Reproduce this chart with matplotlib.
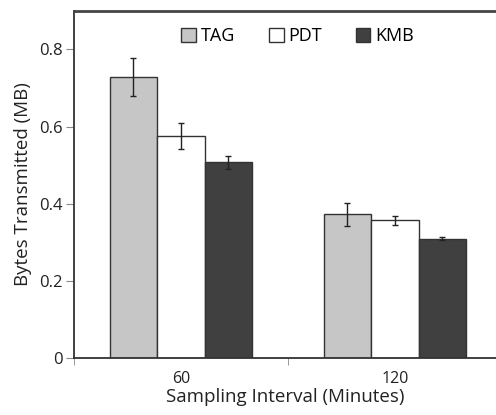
import numpy as np
import matplotlib.pyplot as plt

intervals = ["60", "120"]
series = ["TAG", "PDT", "KMB"]
tag = [0.728, 0.373]
pdt = [0.576, 0.357]
kmb = [0.507, 0.310]
tag_err = [0.050, 0.030]
pdt_err = [0.034, 0.012]
kmb_err = [0.018, 0.005]

colors = ["#c6c6c6", "#ffffff", "#404040"]
plt.rcParams['font.family'] = ['Open Sans', 'DejaVu Sans']

fig = plt.figure(figsize=(4.96, 4.15), dpi=100)
# the original frame runs past the right edge of the picture
ax = fig.add_axes([0.149, 0.137, 0.851, 0.837])

x = np.arange(len(intervals))
w = 0.222
for i, (vals, errs) in enumerate(zip([tag, pdt, kmb], [tag_err, pdt_err, kmb_err])):
    ax.bar(x + (i - 1) * w, vals, w, color=colors[i], edgecolor="#333333",
           linewidth=1.0, label=series[i], yerr=errs,
           error_kw=dict(ecolor="#222222", elinewidth=1.0, capsize=2.5, capthick=1.0))

ax.set_xlim(-0.5, 1.472)
ax.set_ylim(0, 0.9)
ax.set_yticks([0, 0.2, 0.4, 0.6, 0.8])
ax.set_yticklabels(["0", "0.2", "0.4", "0.6", "0.8"])
ax.set_xticks(x)
ax.set_xticklabels(intervals)
ax.set_xticks([-0.5, 0.5], minor=True)
ax.tick_params(axis="x", which="major", length=0, pad=9, labelsize=11.5, colors="#222222")
ax.tick_params(axis="x", which="minor", length=5, color="#888888")
ax.tick_params(axis="y", length=6, pad=2, color="#888888", labelsize=12, labelcolor="#222222")
for s in ax.spines.values():
    s.set_color("#333333")
    s.set_linewidth(1.3)
ax.spines["right"].set_visible(False)
ax.spines["top"].set_color("#444444")
ax.spines["top"].set_linewidth(2)

ax.set_xlabel("Sampling Interval (Minutes)", fontsize=13.5, color="#222222", labelpad=1)
ax.set_ylabel("Bytes Transmitted (MB)", fontsize=13.5, color="#222222", labelpad=5)

ax.legend(loc="center", bbox_to_anchor=(0.60, 0.913), bbox_transform=fig.transFigure,
          ncol=3, frameon=False, fontsize=13, handlelength=0.8, handleheight=0.8,
          handletextpad=0.25, columnspacing=1.9)

fig.savefig("out.png", dpi=100)
